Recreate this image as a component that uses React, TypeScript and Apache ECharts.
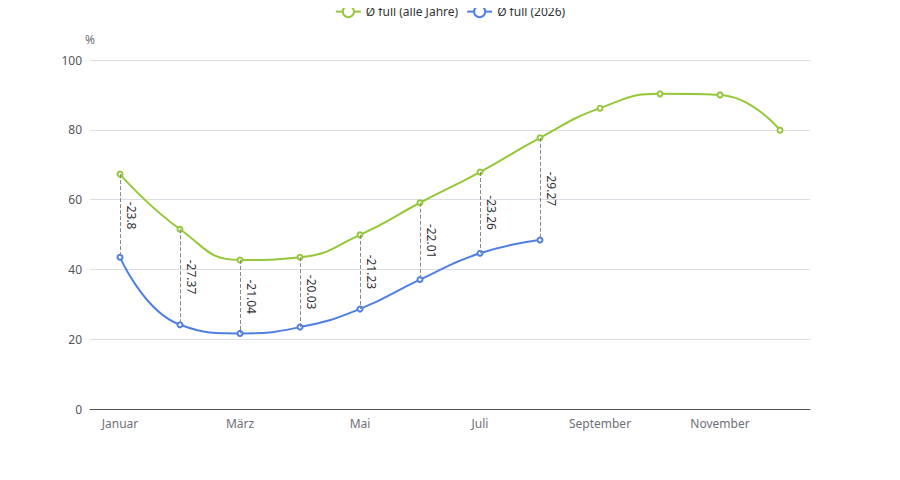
import React, { useEffect, useRef } from "react";
import * as echarts from "echarts";

const months = ["Januar", "Februar", "März", "April", "Mai", "Juni", "Juli", "August", "September", "Oktober", "November", "Dezember"];
const avgAll = [67.3, 51.5, 42.7, 43.5, 49.9, 59.1, 67.9, 77.7, 86.2, 90.3, 90.0, 79.9];
const avg2026 = [43.5, 24.13, 21.66, 23.47, 28.67, 37.09, 44.64, 48.43];
const seriesNames = ["Ø full (alle Jahre)", "Ø full (2026)"];

export default function App() {
  const ref = useRef<HTMLDivElement>(null);
  useEffect(() => {
    if (!ref.current) return;
    const chart = echarts.init(ref.current, undefined, { renderer: "svg" });
    const diffLines = avg2026.map((b, i) => {
      const d = +(b - avgAll[i]).toFixed(2);
      return [
        { coord: [i, avgAll[i]], value: d },
        { coord: [i, b] },
      ];
    });
    chart.setOption({
      animation: false,
      textStyle: { fontFamily: "Noto Sans, sans-serif" },
      legend: { top: 0, data: seriesNames, textStyle: { color: "#333", fontSize: 12 } },
      grid: { left: 90, right: 90, top: 60, bottom: 71 },
      xAxis: {
        type: "category",
        data: months,
        boundaryGap: true,
        axisLabel: { interval: 1, color: "#6E7079" },
        axisTick: { interval: 1 },
      },
      yAxis: {
        type: "value",
        name: "%",
        min: 0,
        max: 100,
        interval: 20,
        nameTextStyle: { color: "#6E7079" },
      },
      series: [
        {
          name: seriesNames[0],
          type: "line",
          smooth: true,
          data: avgAll,
          symbol: "emptyCircle",
          symbolSize: 5,
          lineStyle: { width: 2, color: "#94c83a" },
          itemStyle: { color: "#94c83a" },
          markLine: {
            silent: true,
            symbol: ["none", "none"],
            lineStyle: { type: "dashed", color: "#888", width: 1 },
            label: {
              show: true,
              position: "middle",
              color: "#333",
              fontSize: 12,
              formatter: (p: any) => String(p.value),
            },
            data: diffLines,
          },
        },
        {
          name: seriesNames[1],
          type: "line",
          smooth: true,
          data: avg2026,
          symbol: "emptyCircle",
          symbolSize: 5,
          lineStyle: { width: 2, color: "#4f7fe0" },
          itemStyle: { color: "#4f7fe0" },
        },
      ],
    });
    return () => chart.dispose();
  }, []);
  return <div ref={ref} style={{ width: 900, height: 480, marginLeft: -8, marginTop: -8 }} />;
}
